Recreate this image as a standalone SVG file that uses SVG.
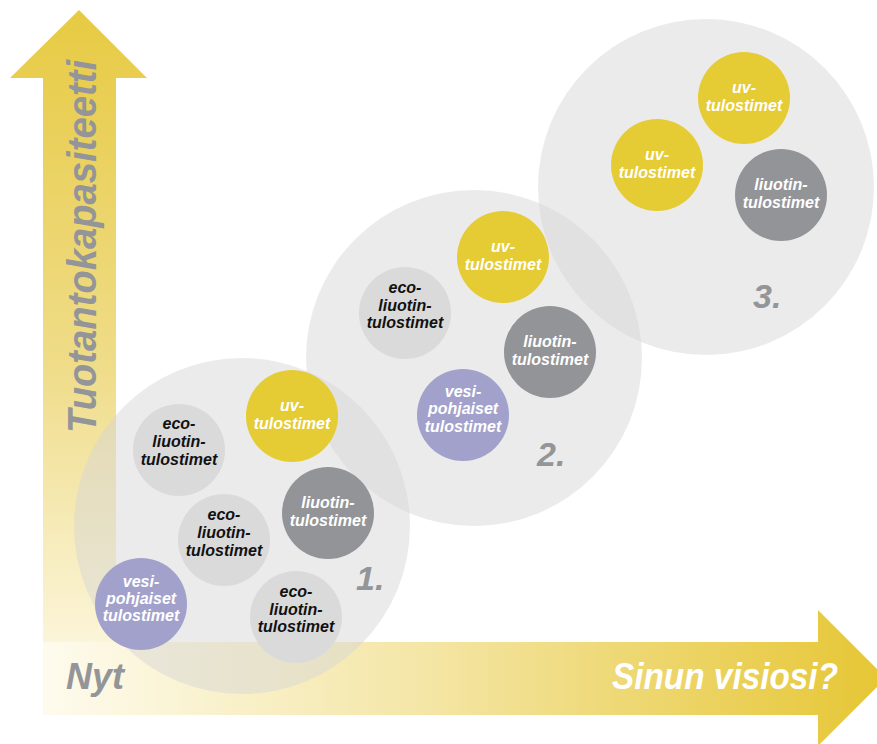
<svg xmlns="http://www.w3.org/2000/svg" width="877" height="744" viewBox="0 0 877 744">
<style>
.t{font-family:"Liberation Sans",Arial,sans-serif;font-weight:bold;font-style:italic;}
.s{font-size:16px;text-anchor:middle;}
.w{fill:#ffffff;}
.k{fill:#111111;}
.g{fill:#939598;}
.big{fill:#d6d6d6;fill-opacity:0.48;}
.yel{fill:#e5cb34;}
.dk{fill:#929497;}
.lt{fill:#dadada;}
.pu{fill:#a2a1cc;}
</style>
<defs>
<linearGradient id="gv" x1="0" y1="10" x2="0" y2="715" gradientUnits="userSpaceOnUse">
<stop offset="0" stop-color="#e7ca43"/>
<stop offset="0.5" stop-color="#efdc88"/>
<stop offset="1" stop-color="#fefbee"/>
</linearGradient>
<linearGradient id="gh" x1="43" y1="0" x2="886" y2="0" gradientUnits="userSpaceOnUse">
<stop offset="0" stop-color="#fefbee"/>
<stop offset="0.45" stop-color="#f4e6a6"/>
<stop offset="1" stop-color="#e6c634"/>
</linearGradient>
</defs>
<g id="axis-y">
<polygon points="79,10 147,78 116,78 116,715 43,715 43,78 10,78" fill="url(#gv)"/>
<text class="t g" font-size="40" transform="translate(96,433) rotate(-90)" textLength="373" lengthAdjust="spacingAndGlyphs">Tuotantokapasiteetti</text>
</g>
<g id="axis-x">
<polygon points="43,642 818,642 818,610 886,678 818,746 818,715 43,715" fill="url(#gh)"/>
<text class="t g" font-size="36" x="66" y="689">Nyt</text>
<text class="t w" font-size="36" x="612" y="689" textLength="226" lengthAdjust="spacingAndGlyphs">Sinun visiosi?</text>
</g>
<g id="stage1">
<circle class="big" cx="242" cy="526" r="168"/>
</g>
<g id="stage2">
<circle class="big" cx="474" cy="358" r="168"/>
</g>
<g id="stage3">
<circle class="big" cx="706" cy="187" r="168"/>
</g>
<g id="s1-uv">
<circle class="yel" cx="292" cy="416" r="46"/>
<text class="t s w"><tspan x="292" y="411">uv-</tspan><tspan x="292" y="429">tulostimet</tspan></text>
</g>
<g id="s1-eco1">
<circle class="lt" cx="179" cy="450" r="46"/>
<text class="t s k"><tspan x="179" y="429">eco-</tspan><tspan x="179" y="447">liuotin-</tspan><tspan x="179" y="465">tulostimet</tspan></text>
</g>
<g id="s1-liuotin">
<circle class="dk" cx="328" cy="513" r="46"/>
<text class="t s w"><tspan x="328" y="508">liuotin-</tspan><tspan x="328" y="526">tulostimet</tspan></text>
</g>
<g id="s1-eco2">
<circle class="lt" cx="224" cy="540" r="46"/>
<text class="t s k"><tspan x="224" y="520">eco-</tspan><tspan x="224" y="538">liuotin-</tspan><tspan x="224" y="556">tulostimet</tspan></text>
</g>
<g id="s1-vesi">
<circle class="pu" cx="141" cy="604" r="46"/>
<text class="t s w"><tspan x="141" y="587">vesi-</tspan><tspan x="141" y="604">pohjaiset</tspan><tspan x="141" y="621">tulostimet</tspan></text>
</g>
<g id="s1-eco3">
<circle class="lt" cx="296" cy="617" r="46"/>
<text class="t s k"><tspan x="296" y="597">eco-</tspan><tspan x="296" y="615">liuotin-</tspan><tspan x="296" y="632">tulostimet</tspan></text>
</g>
<g id="label1"><text class="t g" font-size="34" x="356" y="590">1.</text></g>
<g id="s2-uv">
<circle class="yel" cx="503" cy="257" r="46"/>
<text class="t s w"><tspan x="503" y="252">uv-</tspan><tspan x="503" y="270">tulostimet</tspan></text>
</g>
<g id="s2-eco">
<circle class="lt" cx="405" cy="313" r="46"/>
<text class="t s k"><tspan x="405" y="293">eco-</tspan><tspan x="405" y="311">liuotin-</tspan><tspan x="405" y="328">tulostimet</tspan></text>
</g>
<g id="s2-liuotin">
<circle class="dk" cx="550" cy="352" r="46"/>
<text class="t s w"><tspan x="550" y="347">liuotin-</tspan><tspan x="550" y="365">tulostimet</tspan></text>
</g>
<g id="s2-vesi">
<circle class="pu" cx="463" cy="415" r="46"/>
<text class="t s w"><tspan x="463" y="397">vesi-</tspan><tspan x="463" y="414">pohjaiset</tspan><tspan x="463" y="432">tulostimet</tspan></text>
</g>
<g id="label2"><text class="t g" font-size="34" x="537" y="466">2.</text></g>
<g id="s3-uv1">
<circle class="yel" cx="744" cy="98" r="46"/>
<text class="t s w"><tspan x="744" y="93">uv-</tspan><tspan x="744" y="111">tulostimet</tspan></text>
</g>
<g id="s3-uv2">
<circle class="yel" cx="657" cy="165" r="46"/>
<text class="t s w"><tspan x="657" y="160">uv-</tspan><tspan x="657" y="178">tulostimet</tspan></text>
</g>
<g id="s3-liuotin">
<circle class="dk" cx="781" cy="195" r="46"/>
<text class="t s w"><tspan x="781" y="190">liuotin-</tspan><tspan x="781" y="208">tulostimet</tspan></text>
</g>
<g id="label3"><text class="t g" font-size="34" x="753" y="308">3.</text></g>
<g id="connectors"></g>
</svg>
